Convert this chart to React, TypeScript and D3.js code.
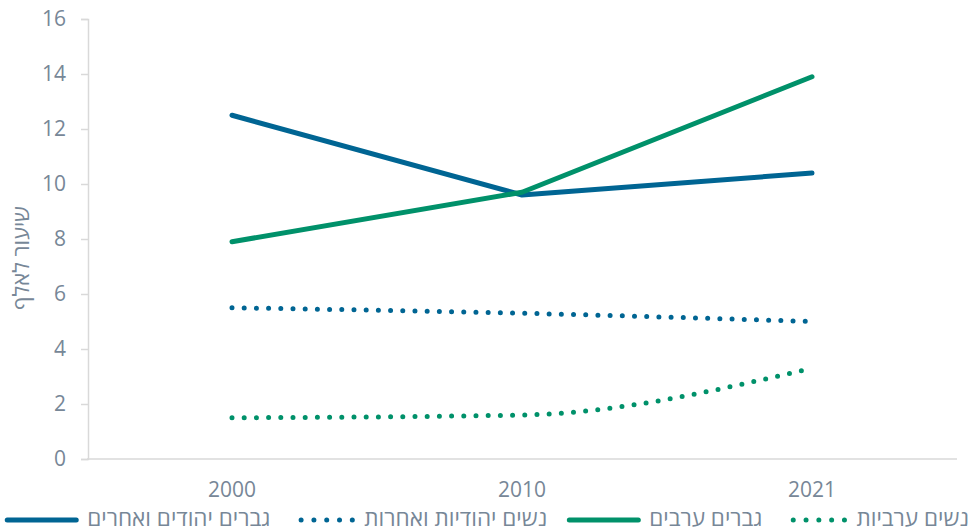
import React, { useEffect, useRef } from "react";
import * as d3 from "d3";

const years = ["2000", "2010", "2021"];
const jewishMen = [12.5, 9.6, 10.4];
const jewishWomen = [5.5, 5.3, 5.0];
const arabMen = [7.9, 9.7, 13.9];
const arabWomen = [1.5, 1.6, 3.3];
const yTicks = [0, 2, 4, 6, 8, 10, 12, 14, 16];
const seriesNames = ["גברים יהודים ואחרים", "נשים יהודיות ואחרות", "גברים ערבים", "נשים ערביות"];
const yTitle = "שיעור לאלף";

const BLUE = "#006593";
const GREEN = "#00916a";
const TEXT = "#778797";
const AXIS = "#d9d9d9";
const FONT = "'Open Sans', 'DejaVu Sans', sans-serif";

export default function App() {
  const ref = useRef<SVGSVGElement>(null);

  useEffect(() => {
    const svg = d3.select(ref.current);
    svg.selectAll("*").remove();

    const x = d3.scalePoint<string>().domain(years).range([87, 957]).padding(0.5);
    const y = d3.scaleLinear().domain([0, 16]).range([459, 19]);

    const series = [
      { name: seriesNames[0], values: jewishMen, color: BLUE, dotted: false },
      { name: seriesNames[1], values: jewishWomen, color: BLUE, dotted: true },
      { name: seriesNames[2], values: arabMen, color: GREEN, dotted: false },
      { name: seriesNames[3], values: arabWomen, color: GREEN, dotted: true },
    ];

    // y axis
    const yAxis = d3.axisLeft(y).tickValues(yTicks).tickSize(7).tickPadding(15);
    const gy = svg.append("g").attr("transform", "translate(88,0)").call(yAxis);
    gy.select(".domain").attr("stroke", AXIS).attr("stroke-width", 1.5);
    gy.selectAll(".tick line").attr("stroke", AXIS).attr("stroke-width", 1.5);
    gy.selectAll(".tick text")
      .attr("fill", TEXT)
      .style("font-family", FONT)
      .style("font-size", "21px");

    // x axis
    const gx = svg.append("g").attr("transform", "translate(0,459)");
    gx.append("line").attr("x1", 87).attr("x2", 957).attr("stroke", AXIS).attr("stroke-width", 1.5);
    gx.selectAll("text")
      .data(years)
      .enter()
      .append("text")
      .attr("x", (d) => x(d)!)
      .attr("y", 38)
      .attr("text-anchor", "middle")
      .attr("fill", TEXT)
      .style("font-family", FONT)
      .style("font-size", "21px")
      .text((d) => d);

    // y title
    svg
      .append("text")
      .attr("transform", "translate(29,258) rotate(-90)")
      .attr("text-anchor", "middle")
      .attr("fill", TEXT)
      .style("font-family", FONT)
      .style("font-size", "22px")
      .style("direction", "rtl")
      .text(yTitle);

    // lines
    series.forEach((s) => {
      const line = d3
        .line<number>()
        .x((_, i) => x(years[i])!)
        .y((d) => y(d))
        .curve(s.dotted ? d3.curveMonotoneX : d3.curveLinear);
      svg
        .append("path")
        .datum(s.values)
        .attr("d", line)
        .attr("fill", "none")
        .attr("stroke", s.color)
        .attr("stroke-width", 5)
        .attr("stroke-linecap", "round")
        .attr("stroke-linejoin", "round")
        .attr("stroke-dasharray", s.dotted ? "0 12.2" : null);
    });

    // legend (right to left)
    const lg = svg.append("g");
    let cursor = 969;
    const ly = 520;
    [...series].reverse().forEach((s) => {
      const t = lg
        .append("text")
        .attr("x", cursor)
        .attr("y", ly + 6)
        .attr("text-anchor", "start")
        .attr("fill", TEXT)
        .style("font-family", FONT)
        .style("font-size", "22.5px")
        .style("direction", "rtl")
        .text(s.name);
      const w = (t.node() as SVGTextElement).getComputedTextLength();
      cursor -= w + 8;
      const sw = s.dotted ? 64 : 72;
      if (s.dotted) {
        lg.append("line")
          .attr("x1", cursor - 4)
          .attr("x2", cursor - 4 - sw)
          .attr("y1", ly)
          .attr("y2", ly)
          .attr("stroke", s.color)
          .attr("stroke-width", 5)
          .attr("stroke-linecap", "round")
          .attr("stroke-dasharray", "0 12.8");
      } else {
        lg.append("line")
          .attr("x1", cursor - 3)
          .attr("x2", cursor - sw)
          .attr("y1", ly)
          .attr("y2", ly)
          .attr("stroke", s.color)
          .attr("stroke-width", 5)
          .attr("stroke-linecap", "round");
      }
      cursor -= sw + 22;
    });
  }, []);

  return (
    <svg
      ref={ref}
      width={972}
      height={532}
      style={{ position: "absolute", left: 0, top: 0, background: "#fff" }}
    />
  );
}
